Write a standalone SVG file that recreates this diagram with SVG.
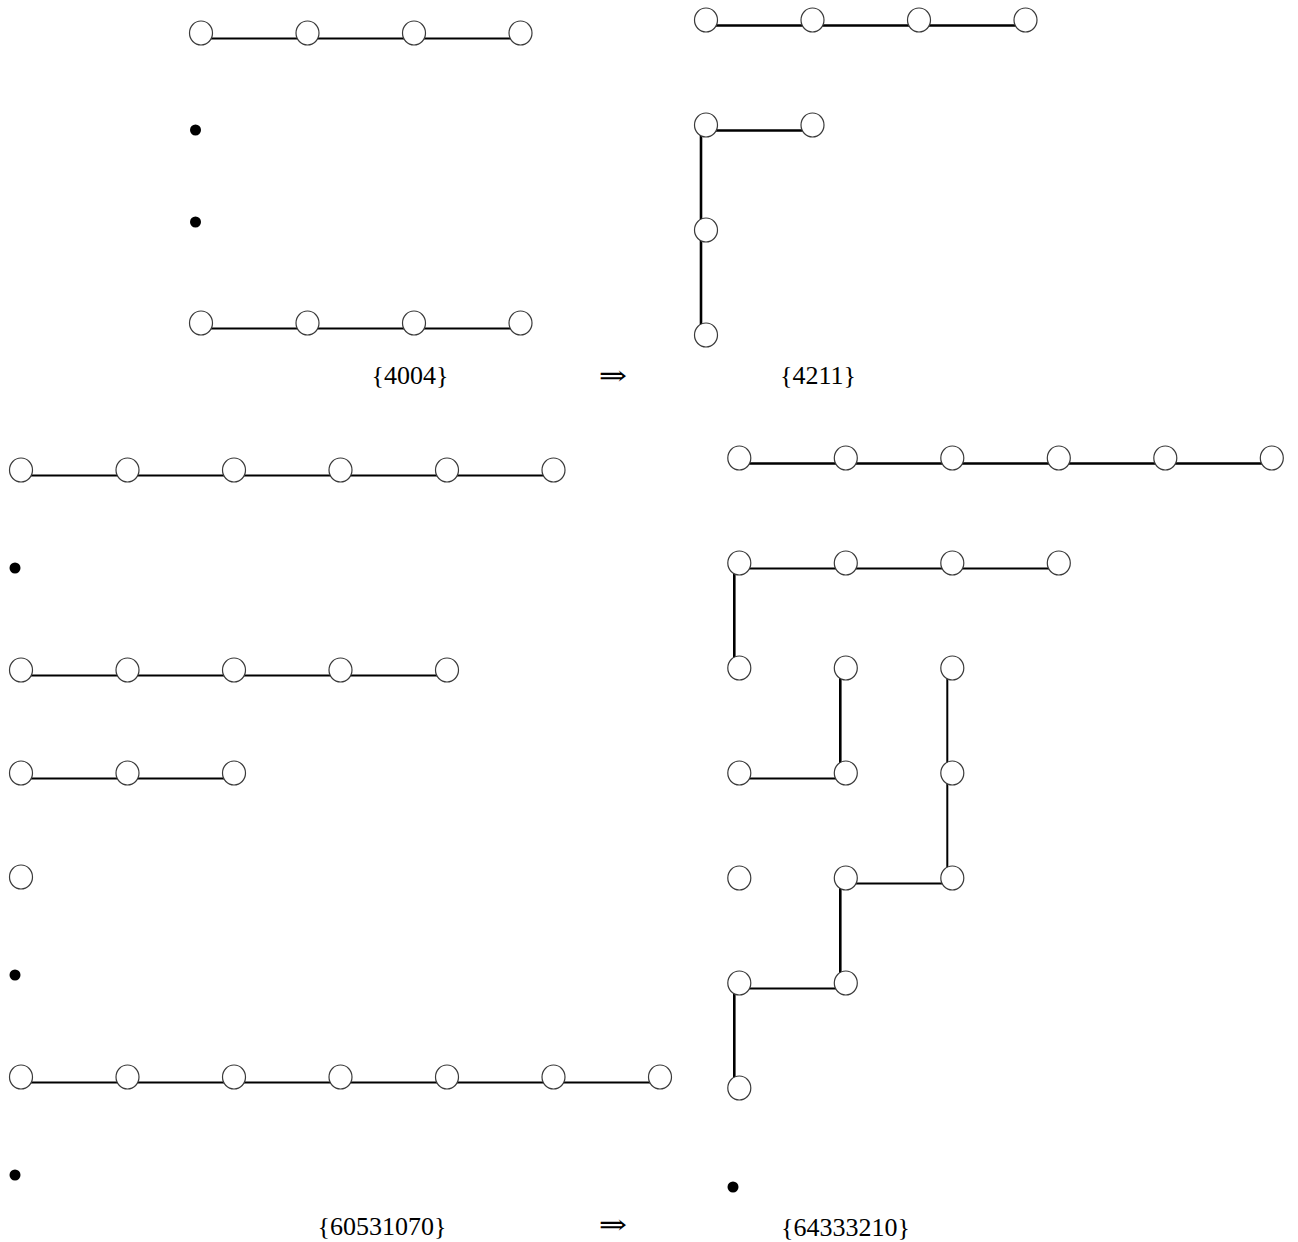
<svg xmlns="http://www.w3.org/2000/svg" width="1298" height="1242" viewBox="0 0 1298 1242">
<defs>
<style>
.n{fill:#fff;stroke:#3a3a3a;stroke-width:1.2}
.d{fill:#000}
.e{stroke:#000;stroke-width:2;fill:none}
.t{stroke:#000;stroke-width:2.6;fill:none}
.lbl{font-family:"Liberation Serif","DejaVu Serif",serif;font-size:26px;fill:#000;text-anchor:middle}
.arr{font-family:"Liberation Serif","DejaVu Serif",serif;font-size:25px;fill:#000;text-anchor:middle}
</style>
</defs>
<rect width="1298" height="1242" fill="#fff"/>
<g id="connectors">
<line class="e" x1="201" y1="38.5" x2="520.5" y2="38.5"/>
<line class="e" x1="201" y1="328.5" x2="520.5" y2="328.5"/>
<line class="t" x1="706" y1="25.5" x2="1025.5" y2="25.5"/>
<line class="t" x1="706" y1="130.5" x2="812.5" y2="130.5"/>
<line class="t" x1="701" y1="125" x2="701" y2="335"/>
<line class="e" x1="21" y1="475.5" x2="553.5" y2="475.5"/>
<line class="e" x1="21" y1="675.5" x2="447" y2="675.5"/>
<line class="e" x1="21" y1="778.5" x2="234" y2="778.5"/>
<line class="e" x1="21" y1="1082.5" x2="660" y2="1082.5"/>
<line class="t" x1="739.3" y1="463.5" x2="1271.8" y2="463.5"/>
<line class="e" x1="739.3" y1="568.5" x2="1058.8" y2="568.5"/>
<line class="t" x1="734.3" y1="563" x2="734.3" y2="668"/>
<line class="t" x1="840.3" y1="668" x2="840.3" y2="773"/>
<line class="e" x1="947.3" y1="668" x2="947.3" y2="878"/>
<line class="e" x1="739.3" y1="778.5" x2="845.8" y2="778.5"/>
<line class="e" x1="845.8" y1="883.5" x2="952.3" y2="883.5"/>
<line class="t" x1="840.3" y1="878" x2="840.3" y2="983"/>
<line class="e" x1="739.3" y1="988.5" x2="845.8" y2="988.5"/>
<line class="t" x1="734.3" y1="983" x2="734.3" y2="1088"/>
</g>
<g id="group-4004">
<ellipse class="n" cx="201" cy="33" rx="11.5" ry="12"/>
<ellipse class="n" cx="307.5" cy="33" rx="11.5" ry="12"/>
<ellipse class="n" cx="414" cy="33" rx="11.5" ry="12"/>
<ellipse class="n" cx="520.5" cy="33" rx="11.5" ry="12"/>
<circle class="d" cx="195.5" cy="130" r="5.5"/>
<circle class="d" cx="195.5" cy="222" r="5.5"/>
<ellipse class="n" cx="201" cy="323" rx="11.5" ry="12"/>
<ellipse class="n" cx="307.5" cy="323" rx="11.5" ry="12"/>
<ellipse class="n" cx="414" cy="323" rx="11.5" ry="12"/>
<ellipse class="n" cx="520.5" cy="323" rx="11.5" ry="12"/>
</g>
<g id="group-4211">
<ellipse class="n" cx="706" cy="20" rx="11.5" ry="12"/>
<ellipse class="n" cx="812.5" cy="20" rx="11.5" ry="12"/>
<ellipse class="n" cx="919" cy="20" rx="11.5" ry="12"/>
<ellipse class="n" cx="1025.5" cy="20" rx="11.5" ry="12"/>
<ellipse class="n" cx="706" cy="125" rx="11.5" ry="12"/>
<ellipse class="n" cx="812.5" cy="125" rx="11.5" ry="12"/>
<ellipse class="n" cx="706" cy="230" rx="11.5" ry="12"/>
<ellipse class="n" cx="706" cy="335" rx="11.5" ry="12"/>
</g>
<g id="group-60531070">
<ellipse class="n" cx="21" cy="470" rx="11.5" ry="12"/>
<ellipse class="n" cx="127.5" cy="470" rx="11.5" ry="12"/>
<ellipse class="n" cx="234" cy="470" rx="11.5" ry="12"/>
<ellipse class="n" cx="340.5" cy="470" rx="11.5" ry="12"/>
<ellipse class="n" cx="447" cy="470" rx="11.5" ry="12"/>
<ellipse class="n" cx="553.5" cy="470" rx="11.5" ry="12"/>
<circle class="d" cx="15" cy="568" r="5.5"/>
<ellipse class="n" cx="21" cy="670" rx="11.5" ry="12"/>
<ellipse class="n" cx="127.5" cy="670" rx="11.5" ry="12"/>
<ellipse class="n" cx="234" cy="670" rx="11.5" ry="12"/>
<ellipse class="n" cx="340.5" cy="670" rx="11.5" ry="12"/>
<ellipse class="n" cx="447" cy="670" rx="11.5" ry="12"/>
<ellipse class="n" cx="21" cy="773" rx="11.5" ry="12"/>
<ellipse class="n" cx="127.5" cy="773" rx="11.5" ry="12"/>
<ellipse class="n" cx="234" cy="773" rx="11.5" ry="12"/>
<ellipse class="n" cx="21" cy="877" rx="11.5" ry="12"/>
<circle class="d" cx="15" cy="975" r="5.5"/>
<ellipse class="n" cx="21" cy="1077" rx="11.5" ry="12"/>
<ellipse class="n" cx="127.5" cy="1077" rx="11.5" ry="12"/>
<ellipse class="n" cx="234" cy="1077" rx="11.5" ry="12"/>
<ellipse class="n" cx="340.5" cy="1077" rx="11.5" ry="12"/>
<ellipse class="n" cx="447" cy="1077" rx="11.5" ry="12"/>
<ellipse class="n" cx="553.5" cy="1077" rx="11.5" ry="12"/>
<ellipse class="n" cx="660" cy="1077" rx="11.5" ry="12"/>
<circle class="d" cx="15" cy="1175" r="5.5"/>
</g>
<g id="group-64333210">
<ellipse class="n" cx="739.3" cy="458" rx="11.5" ry="12"/>
<ellipse class="n" cx="845.8" cy="458" rx="11.5" ry="12"/>
<ellipse class="n" cx="952.3" cy="458" rx="11.5" ry="12"/>
<ellipse class="n" cx="1058.8" cy="458" rx="11.5" ry="12"/>
<ellipse class="n" cx="1165.3" cy="458" rx="11.5" ry="12"/>
<ellipse class="n" cx="1271.8" cy="458" rx="11.5" ry="12"/>
<ellipse class="n" cx="739.3" cy="563" rx="11.5" ry="12"/>
<ellipse class="n" cx="845.8" cy="563" rx="11.5" ry="12"/>
<ellipse class="n" cx="952.3" cy="563" rx="11.5" ry="12"/>
<ellipse class="n" cx="1058.8" cy="563" rx="11.5" ry="12"/>
<ellipse class="n" cx="739.3" cy="668" rx="11.5" ry="12"/>
<ellipse class="n" cx="845.8" cy="668" rx="11.5" ry="12"/>
<ellipse class="n" cx="952.3" cy="668" rx="11.5" ry="12"/>
<ellipse class="n" cx="739.3" cy="773" rx="11.5" ry="12"/>
<ellipse class="n" cx="845.8" cy="773" rx="11.5" ry="12"/>
<ellipse class="n" cx="952.3" cy="773" rx="11.5" ry="12"/>
<ellipse class="n" cx="739.3" cy="878" rx="11.5" ry="12"/>
<ellipse class="n" cx="845.8" cy="878" rx="11.5" ry="12"/>
<ellipse class="n" cx="952.3" cy="878" rx="11.5" ry="12"/>
<ellipse class="n" cx="739.3" cy="983" rx="11.5" ry="12"/>
<ellipse class="n" cx="845.8" cy="983" rx="11.5" ry="12"/>
<ellipse class="n" cx="739.3" cy="1088" rx="11.5" ry="12"/>
<circle class="d" cx="733" cy="1187" r="5.5"/>
</g>
<g id="labels">
<text class="lbl" x="410" y="384">{4004}</text>
<text class="arr" transform="translate(613,385) scale(1.35,1.1)">⇒</text>
<text class="lbl" x="818" y="384">{4211}</text>
<text class="lbl" x="382" y="1235">{60531070}</text>
<text class="arr" transform="translate(613,1234) scale(1.35,1.1)">⇒</text>
<text class="lbl" x="845.5" y="1236">{64333210}</text>
</g>
</svg>
